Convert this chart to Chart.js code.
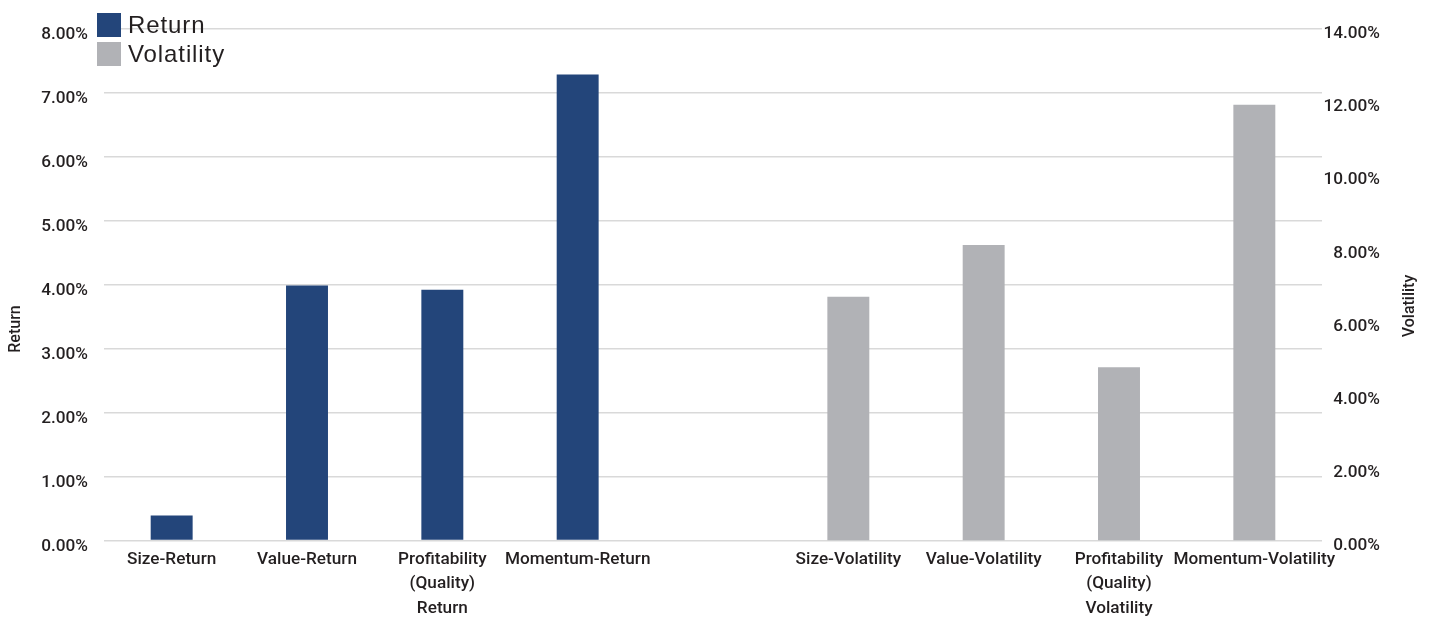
<!DOCTYPE html>
<html>
<head>
<meta charset="utf-8">
<script src="https://cdn.jsdelivr.net/npm/chart.js@4/dist/chart.umd.min.js"></script>
<style>
  html, body { margin: 0; padding: 0; background: #ffffff; }
  #wrap { position: relative; width: 1432px; height: 619px; }
  #chart { position: absolute; left: 0; top: 0; }
  #legend { position: absolute; left: 97px; top: 10px; font-family: "Liberation Sans", Arial, sans-serif;
            font-size: 24px; letter-spacing: 0.9px; color: #231f20; }
  .item { display: flex; align-items: center; height: 29px; }
  .swatch { width: 24px; height: 24px; margin-right: 7px; }
</style>
</head>
<body>
<div id="wrap">
  <canvas id="chart" width="1432" height="619"></canvas>
  <div id="legend"></div>
</div>
<script>
// Factor categories; the blank slot separates the return group from the volatility group
const categories = [
  'Size-Return', 'Value-Return', ['Profitability', '(Quality)', 'Return'], 'Momentum-Return',
  '',
  'Size-Volatility', 'Value-Volatility', ['Profitability', '(Quality)', 'Volatility'], 'Momentum-Volatility'
];
// Annualised return (%), left axis
const returnValues = [0.39, 3.99, 3.92, 7.29, null, null, null, null, null];
// Volatility (%), right axis
const volatilityValues = [null, null, null, null, null, 6.67, 8.09, 4.74, 11.93];
// Axis ticks
const returnTicks = [0, 1, 2, 3, 4, 5, 6, 7, 8];
const volatilityTicks = [0, 2, 4, 6, 8, 10, 12, 14];

const seriesNames = ['Return', 'Volatility'];
const seriesColors = ['#23457a', '#b1b2b6'];
const textColor = '#231f20';
const tickFont = 'Roboto, "Liberation Sans", Arial, sans-serif';

// Legend as page text
const legendEl = document.getElementById('legend');
seriesNames.forEach((name, i) => {
  const row = document.createElement('div');
  row.className = 'item';
  const sw = document.createElement('span');
  sw.className = 'swatch';
  sw.style.background = seriesColors[i];
  const label = document.createElement('span');
  label.textContent = name;
  row.appendChild(sw);
  row.appendChild(label);
  legendEl.appendChild(row);
});

// Rotated axis titles, both reading bottom-to-top
const axisTitles = {
  id: 'axisTitles',
  afterDraw(chart) {
    const ctx = chart.ctx;
    const titles = [['Return', 16, 329], ['Volatility', 1410, 306]];
    titles.forEach(([text, x, y]) => {
      ctx.save();
      ctx.fillStyle = textColor;
      ctx.font = '500 16px ' + tickFont;
      ctx.textAlign = 'center';
      ctx.textBaseline = 'middle';
      ctx.translate(x, y);
      ctx.rotate(-Math.PI / 2);
      ctx.fillText(text, 0, 0);
      ctx.restore();
    });
  }
};

const pct = v => Number(v).toFixed(2) + '%';
const tickStyle = { family: tickFont, size: 17.2, weight: 500 };

new Chart(document.getElementById('chart'), {
  type: 'bar',
  data: {
    labels: categories,
    datasets: [
      { label: seriesNames[0], data: returnValues, backgroundColor: seriesColors[0], yAxisID: 'y',
        grouped: false, barPercentage: 0.31, categoryPercentage: 1 },
      { label: seriesNames[1], data: volatilityValues, backgroundColor: seriesColors[1], yAxisID: 'y1',
        grouped: false, barPercentage: 0.31, categoryPercentage: 1 }
    ]
  },
  options: {
    responsive: false,
    animation: false,
    layout: { padding: { top: 29, left: 0, right: 52, bottom: 0 } },
    plugins: { legend: { display: false }, tooltip: { enabled: false } },
    scales: {
      x: {
        grid: { display: false, drawTicks: false },
        border: { display: false },
        ticks: { color: textColor, font: Object.assign({ lineHeight: 1.42 }, tickStyle),
                 padding: 7, maxRotation: 0, autoSkip: false },
        afterFit: s => { s.height = 78.5; }
      },
      y: {
        position: 'left', min: 0, max: 8,
        afterBuildTicks: s => { s.ticks = returnTicks.map(v => ({ value: v })); },
        grid: { color: '#d9d9d9', lineWidth: 1.5, drawTicks: false },
        border: { display: false },
        ticks: { color: textColor, font: tickStyle, padding: 16, labelOffset: 6, callback: pct },
        afterFit: s => { s.width = 104; }
      },
      y1: {
        position: 'right', min: 0, max: 14,
        afterBuildTicks: s => { s.ticks = volatilityTicks.map(v => ({ value: v })); },
        grid: { display: false, drawTicks: false },
        border: { display: false },
        ticks: { color: textColor, font: tickStyle, padding: 0, labelOffset: 5,
                 crossAlign: 'far', callback: pct },
        afterFit: s => { s.width = 58; }
      }
    }
  },
  plugins: [axisTitles]
});
</script>
</body>
</html>
